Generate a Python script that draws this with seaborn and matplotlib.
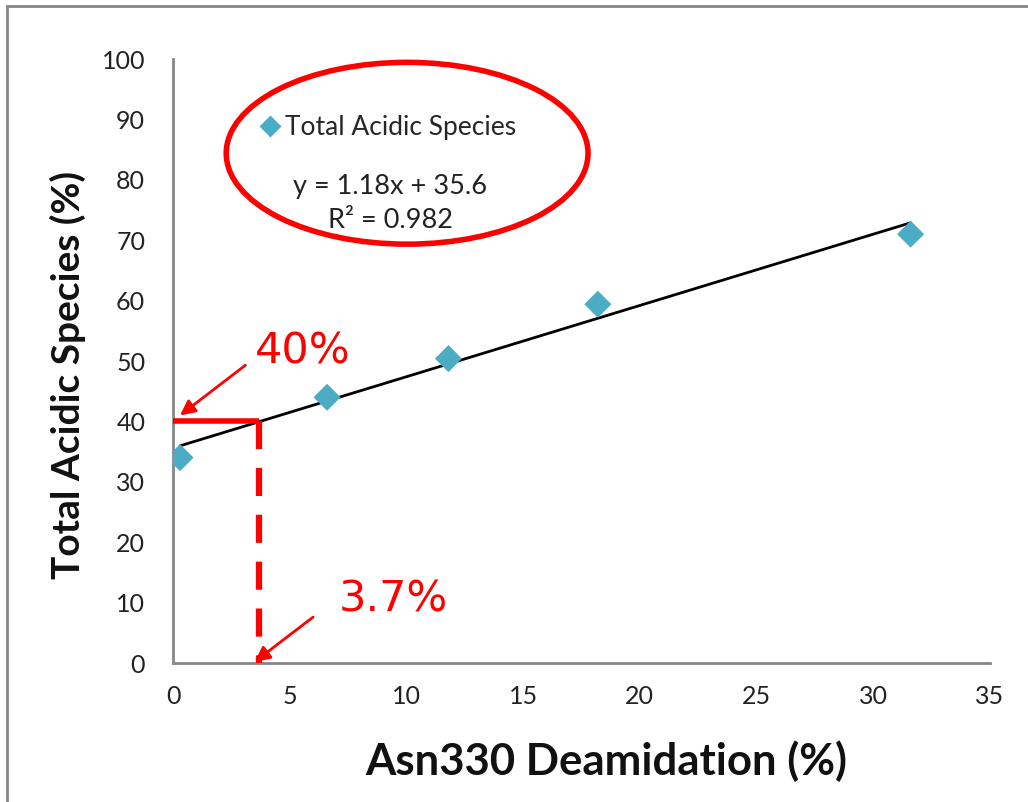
import numpy as np
import pandas as pd
import matplotlib
matplotlib.use("Agg")
import matplotlib.pyplot as plt
from matplotlib.patches import Ellipse, Rectangle
from matplotlib.lines import Line2D
import seaborn as sns

# Measured data
deamidation = [0.3, 6.6, 11.8, 18.2, 31.6]
acidic = [34.0, 44.0, 50.4, 59.4, 71.0]
series_name = "Total Acidic Species"

# Linear fit reported on the chart
slope = 1.18
intercept = 35.6
r_squared = 0.982

# Read-off example
target_acidic = 40.0
target_deamidation = 3.7

x_ticks = [0, 5, 10, 15, 20, 25, 30, 35]
y_ticks = [0, 10, 20, 30, 40, 50, 60, 70, 80, 90, 100]

sns.set_style("white")
plt.rcParams["font.family"] = ["Lato", "DejaVu Sans"]

MARKER_COLOR = "#4BACC6"
RED = "#FF0000"
GRAY = "#868686"

fig = plt.figure(figsize=(10.28, 8.02), dpi=100)
ax = fig.add_axes([0.1683, 0.1733, 0.7947, 0.7531])

df = pd.DataFrame({"x": deamidation, "y": acidic})

# Trend line over the measured range
fit_x = np.array([min(deamidation), max(deamidation)])
fit = pd.DataFrame({"x": fit_x, "y": slope * fit_x + intercept})
sns.lineplot(data=fit, x="x", y="y", ax=ax, color="black", linewidth=2.0, zorder=3)

sns.scatterplot(data=df, x="x", y="y", ax=ax, marker="D", s=190,
                color=MARKER_COLOR, edgecolor="none", zorder=4)

# Read-off guides
ax.plot([0, target_deamidation], [target_acidic, target_acidic],
        color=RED, linewidth=4.0, solid_capstyle="butt", zorder=5, clip_on=False)
ax.plot([target_deamidation, target_deamidation], [target_acidic, 0],
        color=RED, linewidth=4.5, linestyle=(0, (4.5, 3.0)),
        dash_capstyle="butt", zorder=5, clip_on=False)

arrow_kw = dict(arrowstyle="-|>,head_length=0.9,head_width=0.45",
                color=RED, lw=2.0, shrinkA=0, shrinkB=0)
ax.annotate("", xy=(0.3, 41.0), xytext=(3.1, 49.3), arrowprops=arrow_kw, zorder=6)
ax.annotate("", xy=(target_deamidation - 0.2, 0.2), xytext=(6.0, 7.6),
            arrowprops=arrow_kw, zorder=6)
ax.text(3.5, 51.5, f"{target_acidic:.0f}%", color=RED, fontsize=31,
        family="DejaVu Sans", va="center", ha="left")
ax.text(7.1, 10.5, f"{target_deamidation}%", color=RED, fontsize=31,
        family="DejaVu Sans", va="center", ha="left")

# Highlighted legend / equation area
ax.add_patch(Ellipse((10.03, 84.4), 15.5, 30.1, fill=False, edgecolor=RED,
                     linewidth=4.0, zorder=6, clip_on=False))
ax.text(9.3, 78.9, f"y = {slope}x + {intercept}", fontsize=19.5,
        ha="center", va="center", color="#222222")
ax.text(9.3, 73.2, f"R² = {r_squared}", fontsize=19.5,
        ha="center", va="center", color="#222222")

handle = Line2D([], [], marker="D", linestyle="none", markersize=11,
                markerfacecolor=MARKER_COLOR, markeredgecolor="none")
ax.legend([handle], [series_name], loc="center left",
          bbox_to_anchor=(0.09, 0.887), frameon=False, fontsize=19,
          handletextpad=0.05, handlelength=1.0, borderaxespad=0)

ax.set_xlim(0, 35)
ax.set_ylim(0, 100)
ax.set_xticks(x_ticks)
ax.set_yticks(y_ticks)
ax.tick_params(axis="both", which="major", direction="out", length=8,
               width=1.5, color=GRAY, labelsize=18, labelcolor="#222222")
ax.tick_params(axis="y", pad=12)
ax.tick_params(axis="x", pad=8)

for side in ("top", "right"):
    ax.spines[side].set_visible(False)
for side in ("left", "bottom"):
    ax.spines[side].set_color(GRAY)
    ax.spines[side].set_linewidth(2.0)

ax.set_xlabel("Asn330 Deamidation (%)", fontsize=31.5, fontweight="bold",
              color="#111111")
ax.set_ylabel("Total Acidic Species (%)", fontsize=28, fontweight="bold",
              color="#111111")
ax.xaxis.set_label_coords(0.530, -0.128)
ax.yaxis.set_label_coords(-0.1065, 0.477)

# Frame around the figure
fig.patches.append(Rectangle((0.0065, -0.1), 1.2, 1.0925, transform=fig.transFigure,
                             fill=False, edgecolor=GRAY, linewidth=2.0, zorder=10))

fig.savefig("out.png", dpi=100, facecolor="white")
